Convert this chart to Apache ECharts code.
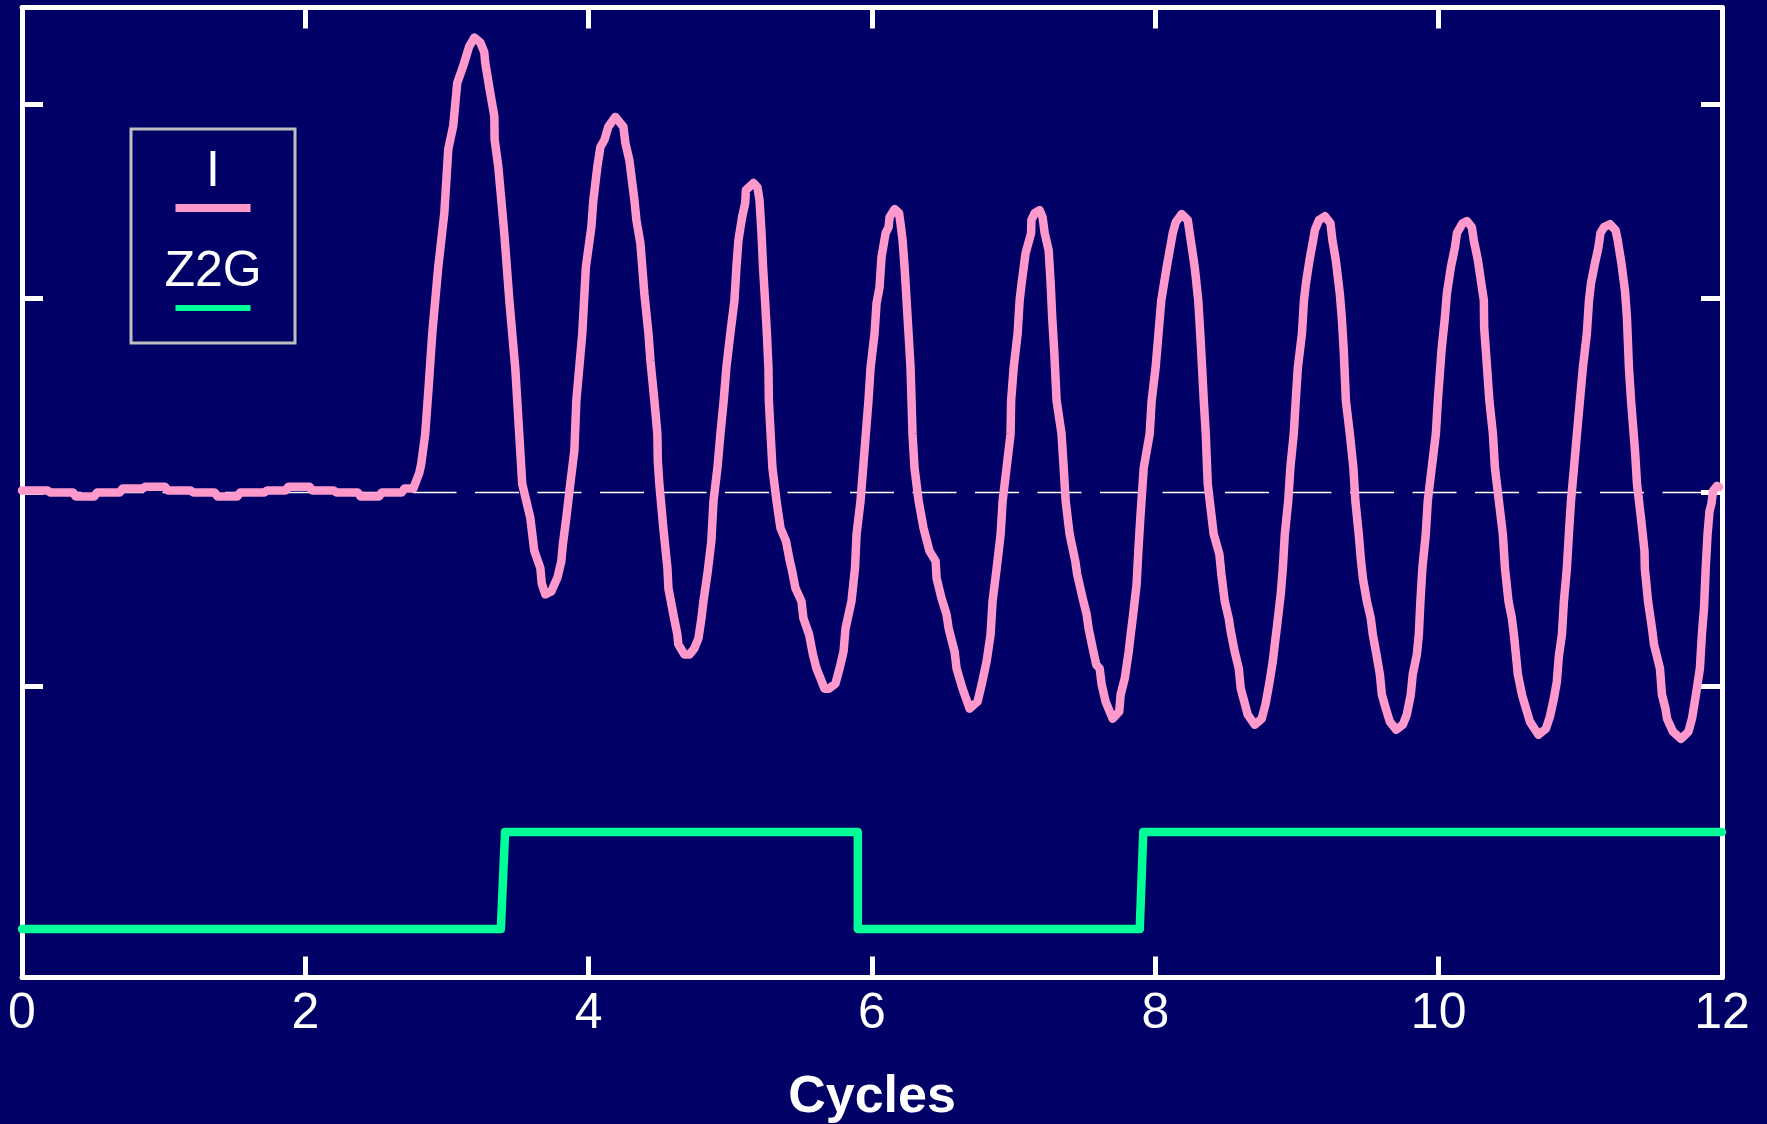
<!DOCTYPE html>
<html>
<head>
<meta charset="utf-8">
<title>I and Z2G vs Cycles</title>
<script src="https://cdn.jsdelivr.net/npm/echarts@6/dist/echarts.min.js"></script>
<style>
  html, body { margin: 0; padding: 0; background: #000066; }
  #chart { width: 1767px; height: 1124px; }
</style>
</head>
<body>
<div id="chart"></div>
<script>
// axis ticks
const xTicks = [0, 2, 4, 6, 8, 10, 12];
const yTicks = [-1, 0, 1, 2];
const seriesNames = ['I', 'Z2G'];

// dashed reference level
const baseline = [[0, 0], [12, 0]];

// I : flat part before the oscillation starts
const iFlat = [[0, 0.01], [0.18, 0.01], [0.2, 0], [0.36, 0], [0.38, -0.02], [0.51, -0.02], [0.53, 0], [0.69, 0],
  [0.71, 0.02], [0.85, 0.02], [0.87, 0.03], [1.01, 0.03], [1.03, 0.01], [1.19, 0.01], [1.21, 0], [1.36, 0],
  [1.38, -0.02], [1.52, -0.02], [1.54, 0], [1.71, 0], [1.73, 0.01], [1.86, 0.01], [1.88, 0.03], [2.03, 0.03],
  [2.05, 0.01], [2.2, 0.01], [2.22, 0], [2.37, 0], [2.39, -0.02], [2.52, -0.02], [2.54, 0], [2.68, 0],
  [2.7, 0.02], [2.762, 0.02]];
// I : one array per oscillation
const iCycle1 = [[2.804, 0.1], [2.818, 0.147], [2.846, 0.3], [2.868, 0.52], [2.896, 0.82], [2.938, 1.16],
  [2.981, 1.44], [3.009, 1.77], [3.044, 1.89], [3.072, 2.11], [3.115, 2.2], [3.157, 2.3], [3.193, 2.345],
  [3.235, 2.32], [3.263, 2.27], [3.27, 2.215], [3.298, 2.09], [3.334, 1.94], [3.336, 1.82], [3.362, 1.68],
  [3.404, 1.34], [3.44, 0.99], [3.482, 0.64], [3.496, 0.47], [3.517, 0.215], [3.531, 0.044], [3.588, -0.13],
  [3.616, -0.3], [3.659, -0.39], [3.669, -0.47], [3.694, -0.525], [3.736, -0.51], [3.779, -0.44],
  [3.807, -0.354], [3.818, -0.266], [3.842, -0.132], [3.87, 0.044], [3.899, 0.215]];
const iCycle2 = [[3.913, 0.473], [3.955, 0.82], [3.98, 1.161], [4.019, 1.368], [4.033, 1.507], [4.061, 1.678],
  [4.083, 1.781], [4.111, 1.817], [4.139, 1.885], [4.188, 1.936], [4.245, 1.885], [4.259, 1.802], [4.287, 1.714],
  [4.323, 1.507], [4.337, 1.404], [4.365, 1.285], [4.393, 1.026], [4.422, 0.82], [4.436, 0.68], [4.464, 0.473],
  [4.485, 0.302], [4.488, 0.163], [4.499, 0.044], [4.527, -0.184], [4.556, -0.39], [4.563, -0.494],
  [4.598, -0.628], [4.626, -0.732], [4.633, -0.783], [4.676, -0.835], [4.711, -0.835], [4.746, -0.804],
  [4.775, -0.752], [4.796, -0.649], [4.81, -0.561], [4.838, -0.421], [4.866, -0.251], [4.881, -0.044],
  [4.909, 0.127], [4.93, 0.302], [4.953, 0.473]];
const iCycle3 = [[4.972, 0.644], [5.0, 0.82], [5.029, 0.99], [5.043, 1.161], [5.057, 1.3], [5.083, 1.419],
  [5.105, 1.492], [5.11, 1.559], [5.163, 1.595], [5.191, 1.574], [5.206, 1.507], [5.22, 1.337], [5.231, 1.161],
  [5.245, 0.99], [5.258, 0.82], [5.269, 0.644], [5.272, 0.473], [5.297, 0.127], [5.326, -0.044], [5.354, -0.184],
  [5.393, -0.251], [5.42, -0.354], [5.432, -0.39], [5.46, -0.494], [5.502, -0.561], [5.516, -0.649],
  [5.556, -0.732], [5.583, -0.835], [5.608, -0.907], [5.637, -0.959], [5.665, -1.011], [5.696, -1.011],
  [5.742, -0.985], [5.771, -0.907], [5.799, -0.82], [5.813, -0.701], [5.855, -0.561], [5.88, -0.39],
  [5.891, -0.215], [5.919, -0.044], [5.947, 0.215], [5.975, 0.473]];
const iCycle4 = [[5.99, 0.644], [6.018, 0.82], [6.032, 0.975], [6.053, 1.057], [6.067, 1.212], [6.096, 1.337],
  [6.117, 1.368], [6.124, 1.419], [6.16, 1.461], [6.191, 1.44], [6.201, 1.388], [6.216, 1.3], [6.23, 1.161],
  [6.244, 0.99], [6.258, 0.82], [6.272, 0.644], [6.279, 0.473], [6.286, 0.302], [6.3, 0.127], [6.329, -0.044],
  [6.364, -0.184], [6.406, -0.302], [6.449, -0.354], [6.456, -0.442], [6.491, -0.546], [6.526, -0.628],
  [6.541, -0.701], [6.583, -0.82], [6.597, -0.907], [6.639, -1.011], [6.689, -1.114], [6.745, -1.078],
  [6.774, -0.99], [6.809, -0.871], [6.837, -0.732], [6.851, -0.561], [6.88, -0.39], [6.908, -0.215],
  [6.922, -0.044], [6.95, 0.127], [6.978, 0.302], [6.982, 0.473]];
const iCycle5 = [[7.0, 0.644], [7.028, 0.82], [7.042, 0.99], [7.056, 1.078], [7.084, 1.233], [7.123, 1.337],
  [7.125, 1.404], [7.148, 1.44], [7.183, 1.455], [7.204, 1.419], [7.219, 1.337], [7.247, 1.249], [7.261, 1.078],
  [7.272, 0.902], [7.286, 0.732], [7.303, 0.473], [7.338, 0.302], [7.353, 0.127], [7.367, -0.044],
  [7.395, -0.215], [7.435, -0.354], [7.448, -0.421], [7.487, -0.546], [7.515, -0.628], [7.529, -0.701],
  [7.558, -0.804], [7.583, -0.887], [7.607, -0.907], [7.621, -0.99], [7.649, -1.078], [7.678, -1.13],
  [7.699, -1.166], [7.745, -1.13], [7.755, -1.042], [7.784, -0.959], [7.812, -0.82], [7.826, -0.732],
  [7.84, -0.649], [7.868, -0.473], [7.88, -0.302], [7.894, -0.132], [7.918, 0.127], [7.96, 0.302], [7.974, 0.473]];
const iCycle6 = [[8.002, 0.644], [8.042, 0.99], [8.08, 1.161], [8.123, 1.337], [8.144, 1.393], [8.186, 1.435],
  [8.229, 1.404], [8.25, 1.3], [8.278, 1.161], [8.303, 0.99], [8.317, 0.82], [8.33, 0.644], [8.342, 0.473],
  [8.356, 0.302], [8.37, 0.044], [8.384, -0.044], [8.412, -0.215], [8.452, -0.318], [8.466, -0.421],
  [8.49, -0.561], [8.518, -0.649], [8.532, -0.716], [8.56, -0.82], [8.589, -0.907], [8.603, -1.011],
  [8.628, -1.078], [8.652, -1.145], [8.702, -1.197], [8.751, -1.166], [8.777, -1.094], [8.803, -0.99],
  [8.829, -0.871], [8.843, -0.783], [8.857, -0.701], [8.885, -0.525], [8.9, -0.39], [8.914, -0.215],
  [8.938, -0.044], [8.953, 0.127], [8.977, 0.302], [8.991, 0.473]];
const iCycle7 = [[9.006, 0.644], [9.035, 0.82], [9.049, 0.99], [9.063, 1.078], [9.088, 1.197], [9.114, 1.3],
  [9.126, 1.352], [9.155, 1.404], [9.197, 1.424], [9.236, 1.388], [9.25, 1.3], [9.274, 1.197], [9.302, 1.026],
  [9.316, 0.902], [9.33, 0.732], [9.345, 0.473], [9.373, 0.302], [9.398, 0.127], [9.412, -0.044],
  [9.436, -0.215], [9.45, -0.339], [9.465, -0.442], [9.493, -0.561], [9.521, -0.649], [9.535, -0.732],
  [9.561, -0.835], [9.585, -0.938], [9.599, -1.042], [9.627, -1.114], [9.655, -1.181], [9.701, -1.223],
  [9.747, -1.197], [9.775, -1.145], [9.803, -1.042], [9.817, -0.938], [9.846, -0.835], [9.86, -0.732],
  [9.871, -0.561], [9.885, -0.39], [9.909, -0.215], [9.923, -0.044], [9.951, 0.127], [9.98, 0.302]];
const iCycle8 = [[9.994, 0.473], [10.02, 0.732], [10.044, 0.902], [10.058, 1.026], [10.086, 1.161],
  [10.115, 1.264], [10.129, 1.337], [10.169, 1.388], [10.2, 1.399], [10.234, 1.368], [10.248, 1.3],
  [10.277, 1.197], [10.305, 1.057], [10.319, 0.99], [10.321, 0.851], [10.333, 0.732], [10.358, 0.473],
  [10.383, 0.302], [10.397, 0.127], [10.425, -0.044], [10.453, -0.215], [10.468, -0.39], [10.493, -0.561],
  [10.517, -0.649], [10.531, -0.732], [10.545, -0.835], [10.559, -0.938], [10.588, -1.042], [10.602, -1.078],
  [10.644, -1.181], [10.704, -1.249], [10.757, -1.218], [10.785, -1.156], [10.813, -1.063], [10.834, -0.975],
  [10.848, -0.846], [10.87, -0.732], [10.884, -0.561], [10.905, -0.39], [10.919, -0.215], [10.934, -0.044],
  [10.955, 0.127], [10.976, 0.302], [10.997, 0.473]];
const iCycle9 = [[11.018, 0.644], [11.046, 0.82], [11.061, 0.99], [11.075, 1.078], [11.103, 1.181],
  [11.128, 1.264], [11.142, 1.337], [11.167, 1.368], [11.209, 1.383], [11.249, 1.352], [11.264, 1.3],
  [11.29, 1.181], [11.315, 1.042], [11.329, 0.902], [11.343, 0.644], [11.358, 0.473], [11.386, 0.215],
  [11.4, 0.044], [11.428, -0.132], [11.453, -0.302], [11.455, -0.39], [11.478, -0.561], [11.506, -0.701],
  [11.52, -0.783], [11.562, -0.907], [11.576, -1.042], [11.601, -1.114], [11.612, -1.166], [11.654, -1.233],
  [11.71, -1.27], [11.763, -1.233], [11.788, -1.166], [11.816, -1.042], [11.844, -0.907], [11.858, -0.732],
  [11.873, -0.597], [11.885, -0.39], [11.898, -0.215], [11.912, -0.096], [11.925, -0.059], [11.937, 0.008],
  [11.965, 0.034], [11.98, 0.028]];

// Z2G : two-level signal
const z2gPoints = [[0, -2.25], [3.38, -2.25], [3.41, -1.75], [5.9, -1.75], [5.9, -2.25], [7.89, -2.25],
  [7.915, -1.75], [12, -1.75]];

const iData = [].concat(iFlat, iCycle1, iCycle2, iCycle3, iCycle4, iCycle5, iCycle6, iCycle7, iCycle8, iCycle9);

const chartDom = document.getElementById('chart');
const myChart = echarts.init(chartDom, null, { renderer: 'svg' });

const FONT = 'Liberation Sans, Arial, Helvetica, sans-serif';
const WHITE = '#ffffff';

// shared axis look: white frame, ticks pointing inwards
function frameAxis(extra) {
  return Object.assign({
    type: 'value',
    axisLine: { show: true, onZero: false, lineStyle: { color: WHITE, width: 5 } },
    axisTick: { show: true, inside: true, length: 21, lineStyle: { color: WHITE, width: 5 } },
    axisLabel: { show: false },
    splitLine: { show: false },
  }, extra);
}

const option = {
  backgroundColor: '#000066',
  animation: false,
  textStyle: { fontFamily: FONT },
  grid: {
    left: 22,
    right: 45,
    top: 7.5,
    bottom: 146.5,
    containLabel: false,
    outerBoundsMode: 'none',
  },
  legend: {
    data: seriesNames,
    orient: 'vertical',
    left: 131,
    top: 129,
    padding: [15, 32, 10, 27],
    itemGap: 11,
    itemWidth: 0,
    itemHeight: 14,
    icon: 'none',
    borderColor: '#c0c0c0',
    borderWidth: 3,
    selectedMode: false,
    formatter: function (name) {
      return '{t|' + name + '}\n{' + (name === 'I' ? 'pink' : 'green') + '|}';
    },
    textStyle: {
      color: WHITE,
      fontSize: 50,
      fontFamily: FONT,
      rich: {
        t: { color: WHITE, fontSize: 50, fontFamily: FONT, width: 100, lineHeight: 50, align: 'center' },
        pink: { width: 75, height: 8, lineHeight: 28, backgroundColor: '#ff99cc', align: 'center' },
        green: { width: 75, height: 6, lineHeight: 28, backgroundColor: '#00ff99', align: 'center' },
      },
    },
  },
  xAxis: [
    frameAxis({
      position: 'bottom',
      min: 0,
      max: 12,
      interval: 2,
      name: 'Cycles',
      nameLocation: 'middle',
      nameGap: 90,
      nameTextStyle: { color: WHITE, fontSize: 52, fontWeight: 'bold', fontFamily: FONT },
      axisLabel: { show: true, color: WHITE, fontSize: 50, fontFamily: FONT, margin: 8 },
    }),
    frameAxis({ position: 'top', min: 0, max: 12, interval: 2 }),
  ],
  yAxis: [
    frameAxis({
      position: 'left',
      min: -2.5,
      max: 2.5,
      axisTick: { show: true, inside: true, length: 21, customValues: yTicks, lineStyle: { color: WHITE, width: 5 } },
    }),
    frameAxis({
      position: 'right',
      min: -2.5,
      max: 2.5,
      axisTick: { show: true, inside: true, length: 21, customValues: yTicks, lineStyle: { color: WHITE, width: 5 } },
    }),
  ],
  series: [
    {
      name: 'baseline',
      type: 'line',
      xAxisIndex: 0,
      yAxisIndex: 0,
      data: baseline,
      symbol: 'none',
      silent: true,
      z: 1,
      lineStyle: { color: WHITE, width: 1.5, type: [44, 18.5], dashOffset: 46.5 },
    },
    {
      name: 'I',
      type: 'line',
      xAxisIndex: 0,
      yAxisIndex: 0,
      data: iData,
      symbol: 'none',
      showSymbol: false,
      z: 3,
      lineStyle: { color: '#ff99cc', width: 8.5, join: 'round', cap: 'round' },
    },
    {
      name: 'Z2G',
      type: 'line',
      xAxisIndex: 0,
      yAxisIndex: 0,
      data: z2gPoints,
      symbol: 'none',
      showSymbol: false,
      z: 3,
      lineStyle: { color: '#00ff99', width: 8.5, join: 'round', cap: 'round' },
    },
  ],
};

myChart.setOption(option);

window.addEventListener('resize', myChart.resize);
</script>
</body>
</html>
